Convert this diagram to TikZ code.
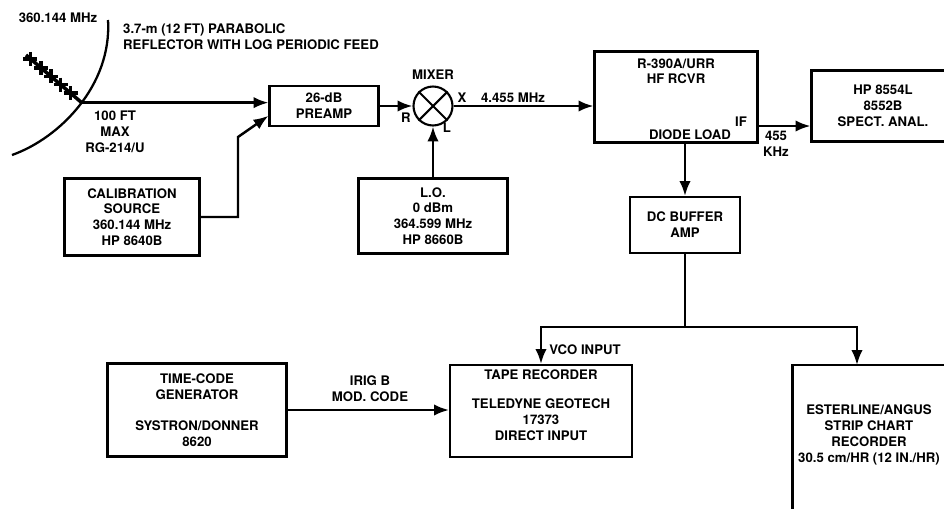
\documentclass[tikz,border=0pt]{standalone}
\usepackage{fontspec}
\setmainfont{TeX Gyre Heros}
\usetikzlibrary{positioning,arrows.meta,calc}
\tikzset{
    every node/.style = {
        font=\fontsize{7.5}{9}\selectfont\bfseries,
        align=center
    },
    block/.style = {
        draw,
        shape=rectangle,
        inner sep=0pt,
        line width=1.2pt
    },
    mixer/.style = {
        draw,
        shape=circle,
        minimum size=0.78cm,
        line width=1.2pt
    },
    feedmark/.style = {
        line width=2pt
    },
    wire/.style = {
        line width=1.4pt
    },
    >={Latex[length=8.5pt,width=6.5pt]},
}

\begin{document}
\begin{tikzpicture}[x=0.02cm, y=-0.02cm]
            \useasboundingbox (0,0) rectangle (944,508);
            \clip (0,0) rectangle (944,508);

            \draw[line width=1.3pt] (12,155) .. controls (60,138) and (112,85) ..
            coordinate[pos=0.52] (feed) (108,20);
            \coordinate (feedtip) at (26,55);
            \draw[line width=2pt] (feed) -- (feedtip);
            \foreach \t [count=\i] in {0.2,0.38,0.55,0.73,0.92} {
                \coordinate (feedx\i) at ($(feed)!\t!(feedtip)$);
                \draw[feedmark] ($(feedx\i)+(-7,0)$) -- ($(feedx\i)+(7,0)$);
                \draw[feedmark] ($(feedx\i)+(0,-7)$) -- ($(feedx\i)+(0,7)$);
            }

            \node[block, minimum width=2.18cm, minimum height=0.8cm] (preamp) at (324,106) {26-dB\\PREAMP};
            \node[mixer] (mix) at (433,106) {};
            \node[block, minimum width=2.98cm, minimum height=1.5cm] (lo) at (433,216) {L.O.\\0 dBm\\364.599 MHz\\HP 8660B};
            \node[block, minimum width=2.7cm, minimum height=1.54cm] (cal) at (132,217) {CALIBRATION\\SOURCE\\360.144 MHz\\HP 8640B};
            \node[block, minimum width=3.26cm, minimum height=1.82cm] (rcvr) at (676,97) {};
            \node (rcvrname) [below=1pt of rcvr.north] {R-390A/URR\\HF RCVR};
            \node (diode) at (690,135) {DIODE LOAD};
            \node[block, minimum width=2.86cm, minimum height=1.42cm] (spect) at (883,106) {HP 8554L\\8552B\\SPECT. ANAL.};
            \node[block, minimum width=2.2cm, minimum height=1.12cm] (dcbuf) at (685,225) {DC BUFFER\\AMP};
            \node[block, minimum width=3.58cm, minimum height=1.86cm] (tcg) at (197,410) {TIME-CODE\\GENERATOR\\[9pt]SYSTRON/DONNER\\8620};
            \node[block, minimum width=3.64cm, minimum height=1.84cm] (tape) at (541,411) {};
            \node (tapename) at (541,405) {TAPE RECORDER\\[8pt]TELEDYNE GEOTECH\\17373\\DIRECT INPUT};
            \node[block, minimum width=3.34cm, minimum height=3.2cm] (strip) at (876,445) {};
            \node (stripname) at (869,435) {ESTERLINE/ANGUS\\STRIP CHART\\RECORDER\\30.5 cm/HR (12 IN./HR)};

            \draw[line width=1.2pt] (mix.45) -- (mix.225);
            \draw[line width=1.2pt] (mix.135) -- (mix.315);

            \node (freq) at (58,18) {360.144 MHz};
            \node[align=left, anchor=west] (refl) at (117,37) {3.7-m (12 FT) PARABOLIC\\REFLECTOR WITH LOG PERIODIC FEED};
            \node (cable) at (115,132) {100 FT\\MAX\\RG-214/U};
            \node (mixname) [above=0pt of mix] {MIXER};
            \node (rport) at (406,118) {R};
            \node (lport) at (447,128) {L};
            \node (xport) at (462,98) {X};
            \node (iffreq) at (513,98) {4.455 MHz};
            \node (ifname) at (741,122) {IF};
            \node (ifkhz) at (776,144) {455\\KHz};
            \node (vco) at (585,350) {VCO INPUT};
            \node (irig) at (370,389) {IRIG B\\MOD. CODE};

            \coordinate (calbend) at (238,137);
            \coordinate (split) at (685,327);
            \coordinate (stripin) at (857,365);

            \draw[wire, ->] (feed) -- (feed -| preamp.west);
            \draw[wire, ->] (cal.east) -| (calbend) -- (preamp.190);
            \draw[wire, ->] (preamp) -- (mix);
            \draw[wire, ->] (lo) -- (mix);
            \draw[wire, ->] (mix) -- (mix -| rcvr.west);
            \draw[wire, ->] (rcvr.east |- 0,126) -- (spect.west |- 0,126);
            \draw[wire, ->] (dcbuf.north |- rcvr.south) -- (dcbuf.north);
            \draw[wire] (dcbuf) -- (split);
            \draw[wire, ->] (split) -| (tape.north);
            \draw[wire, ->] (split) -| (stripin);
            \draw[wire, ->] (tcg) -- (tcg -| tape.west);
\end{tikzpicture}
\end{document}
